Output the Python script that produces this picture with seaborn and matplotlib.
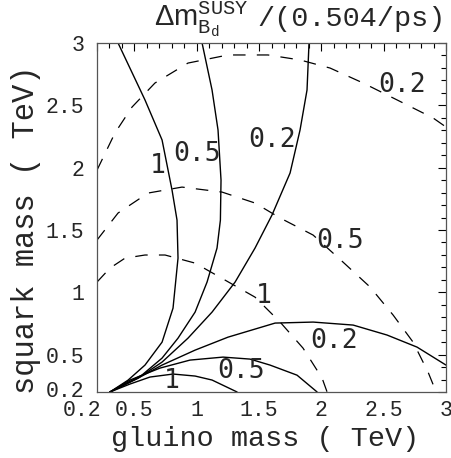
import pandas as pd
import matplotlib
matplotlib.use("Agg")
import matplotlib.pyplot as plt
import matplotlib.transforms as mtransforms
import seaborn as sns

# solid contours (vertical family), label 1 / 0.5 / 0.2
sv1_x = [0.369, 0.585, 0.722, 0.802, 0.842, 0.850, 0.810, 0.722, 0.585, 0.449, 0.304]
sv1_y = [3.000, 2.543, 2.222, 1.820, 1.579, 1.274, 0.873, 0.600, 0.416, 0.295, 0.200]
sv05_x = [1.043, 1.123, 1.171, 1.195, 1.190, 1.163, 1.083, 0.987, 0.850, 0.722, 0.561, 0.304]
sv05_y = [3.000, 2.623, 2.302, 1.900, 1.579, 1.355, 1.082, 0.841, 0.632, 0.472, 0.336, 0.200]
sv02_x = [1.901, 1.885, 1.829, 1.749, 1.604, 1.468, 1.308, 1.123, 0.930, 0.722, 0.529, 0.304]
sv02_y = [3.000, 2.623, 2.302, 1.957, 1.620, 1.355, 1.082, 0.841, 0.632, 0.440, 0.311, 0.200]

# solid contours (horizontal family)
sh02_x = [0.304, 0.529, 0.722, 0.987, 1.251, 1.629, 1.934, 2.255, 2.527, 2.768, 3.000]
sh02_y = [0.200, 0.311, 0.416, 0.536, 0.640, 0.753, 0.761, 0.737, 0.657, 0.560, 0.416]
sh05_x = [0.304, 0.465, 0.706, 0.946, 1.211, 1.428, 1.588, 1.805, 1.966]
sh05_y = [0.200, 0.296, 0.392, 0.456, 0.480, 0.464, 0.416, 0.335, 0.200]
sh1_x = [0.304, 0.465, 0.625, 0.810, 0.987, 1.123, 1.324]
sh1_y = [0.200, 0.264, 0.320, 0.344, 0.328, 0.296, 0.200]

# dashed contours
d02_x = [0.200, 0.344, 0.481, 0.665, 0.930, 1.251, 1.572, 1.829, 2.070, 2.335, 2.608, 2.897, 3.000]
d02_y = [1.980, 2.278, 2.486, 2.679, 2.839, 2.904, 2.904, 2.864, 2.799, 2.679, 2.543, 2.398, 2.326]
d05_x = [0.200, 0.369, 0.609, 0.882, 1.203, 1.468, 1.669, 1.934, 2.174, 2.391, 2.576, 2.736, 2.856, 2.921]
d05_y = [1.419, 1.636, 1.796, 1.844, 1.804, 1.716, 1.596, 1.459, 1.242, 1.042, 0.817, 0.600, 0.360, 0.200]
d1_x = [0.200, 0.304, 0.425, 0.585, 0.746, 0.987, 1.227, 1.468, 1.669, 1.853, 2.006, 2.046]
d1_y = [1.082, 1.194, 1.274, 1.299, 1.299, 1.234, 1.098, 0.961, 0.761, 0.552, 0.311, 0.200]

solid = [(sv1_x, sv1_y), (sv05_x, sv05_y), (sv02_x, sv02_y),
         (sh02_x, sh02_y), (sh05_x, sh05_y), (sh1_x, sh1_y)]
dashed = [(d02_x, d02_y), (d05_x, d05_y), (d1_x, d1_y)]

labels = ["1", "0.5", "0.2", "0.2", "0.5", "1", "0.2", "0.5", "1"]
label_x = [0.69, 1.00, 1.604, 2.10, 1.356, 0.80, 2.648, 2.15, 1.54]
label_y = [2.01, 2.11, 2.22, 0.608, 0.368, 0.29, 2.663, 1.41, 0.97]

ticks = [0.2, 0.5, 1, 1.5, 2, 2.5, 3]
tick_labels = ["0.2", "0.5", "1", "1.5", "2", "2.5", "3"]

sns.set_style("white")
plt.rcParams['font.family'] = ['Liberation Mono', 'DejaVu Sans']
plt.rcParams['mathtext.fontset'] = 'custom'
plt.rcParams['mathtext.rm'] = 'Liberation Sans'
plt.rcParams['mathtext.tt'] = 'Liberation Mono'

fig = plt.figure(figsize=(4.51, 4.58), dpi=100)
ax = fig.add_axes([97/451, 1-392/458, 349/451, 349/458])

for xs, ys in solid:
    sns.lineplot(x=xs, y=ys, sort=False, estimator=None, color='black', lw=1.0, ax=ax)
for xs, ys in dashed:
    sns.lineplot(x=xs, y=ys, sort=False, estimator=None, color='black', lw=0.9,
                 linestyle=(0, (10, 9)), ax=ax)

for t, x, y in zip(labels, label_x, label_y):
    ax.text(x, y, t, ha='center', va='center', fontsize=19, family='DejaVu Sans Mono')

ax.set_xlim(0.2, 3)
ax.set_ylim(0.2, 3)
ax.set_xticks(ticks)
ax.set_xticklabels(tick_labels)
ax.set_yticks(ticks)
ax.set_yticklabels(tick_labels)
ax.set_xticks([i/10 for i in range(2, 31)], minor=True)
ax.set_yticks([i/10 for i in range(2, 31)], minor=True)
ax.tick_params(which='both', direction='in', top=True, right=True, color='black', width=0.8)
ax.tick_params(which='major', length=6, labelsize=15.5)
ax.tick_params(axis='x', which='major', pad=6)
ax.tick_params(axis='y', which='major', pad=9)
ax.tick_params(which='minor', length=3.5)
for s in ax.spines.values():
    s.set_color('#555555')
    s.set_linewidth(0.9)

# nudge the corner labels apart like the original
fig.canvas.draw()
xl0 = ax.get_xticklabels()[0]
xl0.set_transform(xl0.get_transform() + mtransforms.ScaledTranslation(-0.15, 0, fig.dpi_scale_trans))
yl0 = ax.get_yticklabels()[0]
yl0.set_transform(yl0.get_transform() + mtransforms.ScaledTranslation(0, 0.03, fig.dpi_scale_trans))

ax.set_xlabel("gluino mass ( TeV)", fontsize=20.5)
ax.xaxis.set_label_coords(0.481, -0.097)
ax.set_ylabel("squark mass ( TeV)", fontsize=22)
ax.yaxis.set_label_coords(-0.16, 0.464)

fig.text(446/451, 1-26/458, "/(0.504/ps)", ha='right', va='baseline', fontsize=20.5)
fig.text(249/451, 1-26/458, r"$\Delta\mathrm{m}_{\mathtt{B_d}}^{\mathtt{SUSY}}$",
         ha='right', va='baseline', fontsize=21)

fig.savefig("out.png", dpi=100)
